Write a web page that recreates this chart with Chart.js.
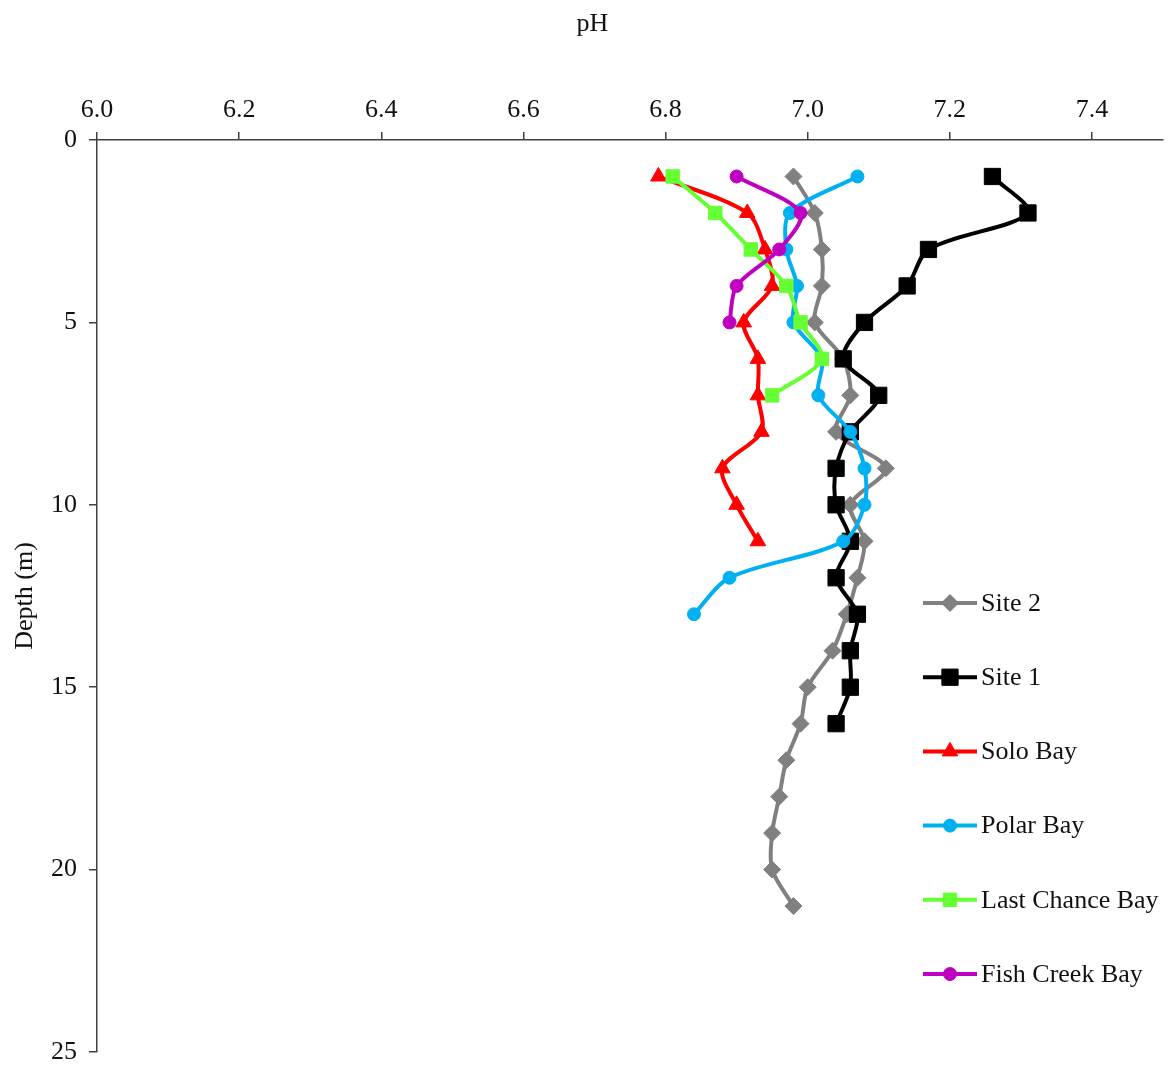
<!DOCTYPE html>
<html>
<head>
<meta charset="utf-8">
<script src="https://cdn.jsdelivr.net/npm/chart.js@4/dist/chart.umd.min.js"></script>
<style>
html,body{margin:0;padding:0;background:#fff;}
#wrap{width:1171px;height:1068px;}
</style>
</head>
<body>
<div id="wrap"><canvas id="c" width="1171" height="1068"></canvas></div>
<script>
// ---- Data ----
const seriesNames = ['Site 2', 'Site 1', 'Solo Bay', 'Polar Bay', 'Last Chance Bay', 'Fish Creek Bay'];

const site2Depth = [1,2,3,4,5,6,7,8,9,10,11,12,13,14,15,16,17,18,19,20,21];
const site2PH    = [6.98,7.01,7.02,7.02,7.01,7.05,7.06,7.04,7.11,7.06,7.08,7.07,7.055,7.035,7.00,6.99,6.97,6.96,6.95,6.95,6.98];

const site1Depth = [1,2,3,4,5,6,7,8,9,10,11,12,13,14,15,16];
const site1PH    = [7.26,7.31,7.17,7.14,7.08,7.05,7.10,7.06,7.04,7.04,7.06,7.04,7.07,7.06,7.06,7.04];

const soloDepth = [1,2,3,4,5,6,7,8,9,10,11];
const soloPH    = [6.79,6.915,6.94,6.95,6.91,6.93,6.93,6.935,6.88,6.90,6.93];

const polarDepth = [1,2,3,4,5,6,7,8,9,10,11,12,13];
const polarPH    = [7.07,6.975,6.97,6.985,6.98,7.02,7.015,7.06,7.08,7.08,7.05,6.89,6.84];

const lastChanceDepth = [1,2,3,4,5,6,7];
const lastChancePH    = [6.81,6.87,6.92,6.97,6.99,7.02,6.95];

const fishCreekDepth = [1,2,3,4,5];
const fishCreekPH    = [6.90,6.99,6.96,6.90,6.89];

const xTickValues = [6.0,6.2,6.4,6.6,6.8,7.0,7.2,7.4];
const xTickLabels = ['6.0','6.2','6.4','6.6','6.8','7.0','7.2','7.4'];
const yTickValues = [0,5,10,15,20,25];
const yTickLabels = ['0','5','10','15','20','25'];

// ---- Build datasets ----
function pts(xs, ys){ return xs.map((v,i)=>({x:v, y:ys[i]})); }

const FONT = '"Liberation Serif", "Times New Roman", serif';
const styles = [
  {color:'#808080', pointStyle:'rectRot', radius:8.5, lw:4},
  {color:'#000000', pointStyle:'rect', radius:11.5, lw:4},
  {color:'#FF0000', pointStyle:'triangle', radius:9, lw:4},
  {color:'#00B0F0', pointStyle:'circle', radius:6.5, lw:4},
  {color:'#66FF33', pointStyle:'rect', radius:9.5, lw:4},
  {color:'#C000C0', pointStyle:'circle', radius:6.5, lw:4}
];
const rawData = [
  pts(site2PH, site2Depth),
  pts(site1PH, site1Depth),
  pts(soloPH, soloDepth),
  pts(polarPH, polarDepth),
  pts(lastChancePH, lastChanceDepth),
  pts(fishCreekPH, fishCreekDepth)
];
const datasets = seriesNames.map((name,i)=>({
  label: name,
  data: rawData[i],
  showLine: true,
  borderColor: styles[i].color,
  backgroundColor: styles[i].color,
  pointBackgroundColor: styles[i].color,
  pointBorderColor: styles[i].color,
  pointBorderWidth: 1,
  pointStyle: styles[i].pointStyle,
  pointRadius: styles[i].radius,
  pointHoverRadius: styles[i].radius,
  borderWidth: styles[i].lw,
  tension: 0.3,
  order: seriesNames.length - i
}));

// ---- Custom legend (matches Excel layout) ----
const legendPlugin = {
  id: 'sideLegend',
  afterDraw(chart){
    const ctx = chart.ctx;
    const x0 = 923, x1 = 977, xm = 950, tx = 981;
    const y0 = 603, dy = 74.2;
    ctx.save();
    chart.data.datasets.forEach((ds,i)=>{
      const y = y0 + i*dy;
      ctx.strokeStyle = ds.borderColor;
      ctx.lineWidth = ds.borderWidth;
      ctx.beginPath(); ctx.moveTo(x0,y); ctx.lineTo(x1,y); ctx.stroke();
      ctx.fillStyle = ds.pointBackgroundColor;
      ctx.strokeStyle = ds.pointBorderColor;
      ctx.lineWidth = ds.pointBorderWidth;
      Chart.helpers.drawPoint(ctx, {pointStyle: ds.pointStyle, radius: ds.pointRadius, rotation: 0, borderWidth: ds.pointBorderWidth}, xm, y);
      ctx.fillStyle = '#111';
      ctx.font = '26px ' + FONT;
      ctx.textBaseline = 'middle';
      ctx.textAlign = 'left';
      ctx.fillText(ds.label, tx, y + 1);
    });
    ctx.restore();
  }
};

new Chart(document.getElementById('c'), {
  type: 'scatter',
  data: { datasets },
  plugins: [legendPlugin],
  options: {
    responsive: false,
    animation: false,
    layout: { autoPadding: false, padding: { left: 22, right: 8, top: 0, bottom: 16 } },
    plugins: {
      legend: { display: false },
      tooltip: { enabled: false },
      title: { display: true, text: 'pH', font: { family: FONT, size: 26, weight: 'normal' }, color: '#111', padding: { top: 9, bottom: 0 } }
    },
    scales: {
      x: {
        type: 'linear',
        position: 'top',
        min: 6.0, max: 7.5,
        afterBuildTicks: s => { s.ticks = xTickValues.map(v=>({value:v})); },
        afterFit: s => { s.height = 140 - 40.2; s.paddingLeft = 0; s.paddingRight = 0; s.paddingTop = 0; s.paddingBottom = 0; },
        ticks: {
          callback: (v, i) => xTickLabels[i],
          font: { family: FONT, size: 26 },
          color: '#111',
          padding: 6,
          maxRotation: 0
        },
        grid: { display: true, drawOnChartArea: false, drawTicks: true, tickLength: 8, color: '#404040', lineWidth: 1.5 },
        border: { display: true, color: '#404040', width: 1.5 }
      },
      y: {
        type: 'linear',
        position: 'left',
        reverse: true,
        min: 0, max: 25,
        afterBuildTicks: s => { s.ticks = yTickValues.map(v=>({value:v})); },
        afterFit: s => { s.width = 75; s.paddingLeft = 0; s.paddingRight = 0; s.paddingTop = 0; s.paddingBottom = 0; },
        ticks: {
          callback: (v, i) => yTickLabels[i],
          font: { family: FONT, size: 26 },
          color: '#111',
          padding: 12
        },
        grid: { display: true, drawOnChartArea: false, drawTicks: true, tickLength: 8, color: '#404040', lineWidth: 1.5 },
        border: { display: true, color: '#404040', width: 1.5 },
        title: { display: true, text: 'Depth (m)', font: { family: FONT, size: 26 }, color: '#111', padding: { top: -12, bottom: 0 } }
      }
    }
  }
});
</script>
</body>
</html>
